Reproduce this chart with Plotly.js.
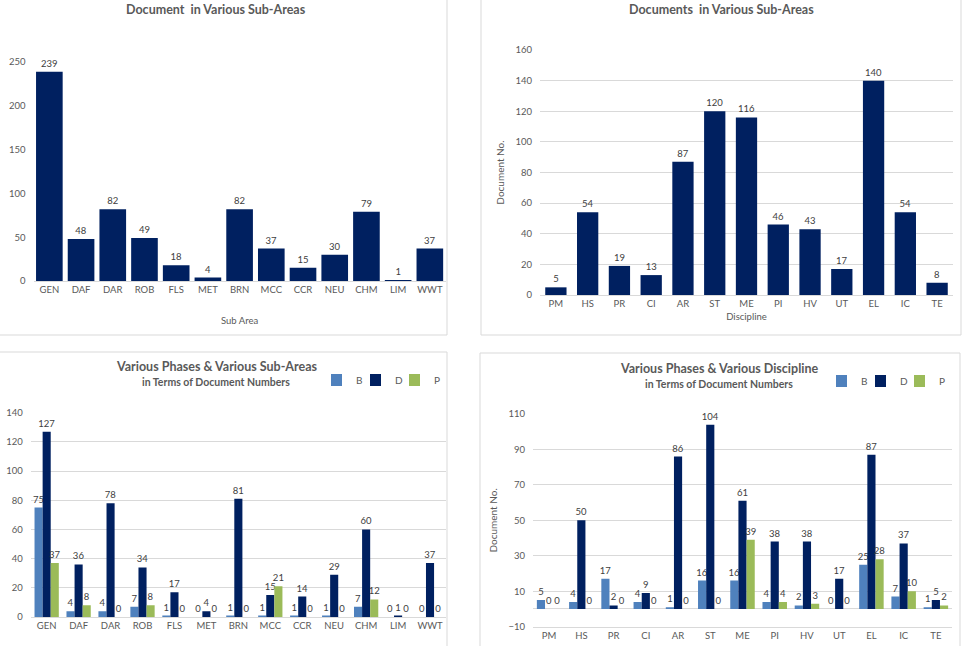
<!DOCTYPE html>
<html>
<head>
<meta charset="utf-8">
<script src="https://cdn.plot.ly/plotly-3.0.1.min.js"></script>
<style>html,body{margin:0;padding:0;background:#fff;}#chart{width:970px;height:646px;}</style>
</head>
<body>
<div id="chart"></div>
<script>
// ---- data ----
const subAreas = ['GEN','DAF','DAR','ROB','FLS','MET','BRN','MCC','CCR','NEU','CHM','LIM','WWT'];
const subAreaTotals = [239,48,82,49,18,4,82,37,15,30,79,1,37];

const disciplines = ['PM','HS','PR','CI','AR','ST','ME','PI','HV','UT','EL','IC','TE'];
const disciplineTotals = [5,54,19,13,87,120,116,46,43,17,140,54,8];

const subAreaB = [75,4,4,7,1,0,1,1,1,1,7,0,0];
const subAreaD = [127,36,78,34,17,4,81,15,14,29,60,1,37];
const subAreaP = [37,8,0,8,0,0,0,21,0,0,12,0,0];

const discB = [5,4,17,4,1,16,16,4,2,0,25,7,1];
const discD = [0,50,2,9,86,104,61,38,38,17,87,37,5];
const discP = [0,0,0,0,0,0,39,4,3,0,28,10,2];

const phaseNames = ['B','D','P'];

// ---- styles ----
const W = 970, H = 646;
const FONT = 'Lato, "Open Sans", sans-serif';
const NAVY = '#002060', BLUE = '#4f81bd', GREEN = '#9bbb59';
const GRID = '#d9d9d9', TXT = '#595959';
const px = v => v / W;
const py = v => 1 - v / H;

const labelFont = {family: FONT, size: 9.5, color: '#404040'};

function bar(x, y, color, xa, ya, extra) {
  return Object.assign({
    type: 'bar', x: x, y: y, xaxis: xa, yaxis: ya,
    marker: {color: color},
    text: y.map(String), textposition: 'outside', textfont: labelFont,
    cliponaxis: false, constraintext: 'none', hoverinfo: 'x+y'
  }, extra || {});
}

const data = [
  bar(subAreas, subAreaTotals, NAVY, 'x', 'y', {showlegend: false, width: 0.84}),
  bar(disciplines, disciplineTotals, NAVY, 'x2', 'y2', {showlegend: false, width: 0.67}),
  bar(subAreas, subAreaB, BLUE, 'x3', 'y3', {name: phaseNames[0], legend: 'legend'}),
  bar(subAreas, subAreaD, NAVY, 'x3', 'y3', {name: phaseNames[1], legend: 'legend2'}),
  bar(subAreas, subAreaP, GREEN, 'x3', 'y3', {name: phaseNames[2], legend: 'legend3'}),
  bar(disciplines, discB, BLUE, 'x4', 'y4', {name: phaseNames[0], legend: 'legend4'}),
  bar(disciplines, discD, NAVY, 'x4', 'y4', {name: phaseNames[1], legend: 'legend5'}),
  bar(disciplines, discP, GREEN, 'x4', 'y4', {name: phaseNames[2], legend: 'legend6'})
];

const tickFont = {family: FONT, size: 9.5, color: TXT};
function xax(d0, d1, anchor, title, standoff) {
  const a = {domain: [px(d0), px(d1)], anchor: anchor, type: 'category',
    tickfont: tickFont, showline: true, linecolor: GRID, linewidth: 1,
    ticks: '', showgrid: false, zeroline: false, fixedrange: true};
  if (title) a.title = {text: title, font: {family: FONT, size: 9.5, color: TXT}, standoff: standoff};
  return a;
}
function yax(top, bottom, anchor, range, dtick, tick0, grid, title) {
  const a = {domain: [py(bottom), py(top)], anchor: anchor, range: range,
    dtick: dtick, tick0: tick0, tickfont: tickFont, showgrid: grid, gridcolor: GRID,
    zeroline: grid, zerolinecolor: GRID, showline: false, ticks: '',
    ticklabelstandoff: 7, fixedrange: true};
  if (title) a.title = {text: title, font: {family: FONT, size: 10, color: TXT}, standoff: 8};
  return a;
}

const titleFont = {family: FONT, size: 12.5, color: TXT, weight: 'bold'};
const subFont = {family: FONT, size: 10.5, color: TXT, weight: 'bold'};
function ann(text, x, y, font) {
  return {text: text, x: px(x), y: py(y), xref: 'paper', yref: 'paper',
    showarrow: false, xanchor: 'center', yanchor: 'middle', font: font};
}
function box(x0, y0, x1, y1) {
  return {type: 'rect', xref: 'paper', yref: 'paper',
    x0: px(x0), x1: px(x1), y0: py(y1), y1: py(y0),
    line: {color: GRID, width: 1}, fillcolor: 'rgba(0,0,0,0)', layer: 'below'};
}

function leg(x, y) {
  return {orientation: 'h', font: {family: FONT, size: 10, color: TXT},
    bgcolor: 'rgba(0,0,0,0)', xanchor: 'left', yanchor: 'middle',
    itemwidth: 30, indentation: -15, x: px(x), y: py(y),
    itemclick: false, itemdoubleclick: false};
}

const layout = {
  width: W, height: H,
  margin: {l: 0, r: 0, t: 0, b: 0},
  paper_bgcolor: '#fff', plot_bgcolor: 'rgba(0,0,0,0)',
  font: {family: FONT, color: TXT},
  barmode: 'group', bargap: 0.24, bargroupgap: 0,
  xaxis: xax(33.5, 445.7, 'y', 'Sub Area', 22),
  yaxis: yax(62, 281, 'x', [0, 250], 50, 0, false),
  xaxis2: xax(540, 953, 'y2', 'Discipline', 4),
  yaxis2: yax(50, 295, 'x2', [0, 160], 20, 0, true, 'Document No.'),
  xaxis3: xax(30.7, 446, 'y3'),
  yaxis3: yax(412.7, 617, 'x3', [0, 140], 20, 0, true),
  xaxis4: xax(533, 952, 'y4'),
  yaxis4: yax(414, 626.7, 'x4', [-10, 110], 20, -10, true, 'Document No.'),
  legend: leg(331, 380),
  legend2: leg(370, 380),
  legend3: leg(409, 380),
  legend4: leg(836, 381),
  legend5: leg(875, 381),
  legend6: leg(914, 381),
  annotations: [
    ann('Document  in Various Sub-Areas', 216, 9, titleFont),
    ann('Documents  in Various Sub-Areas', 721, 9, titleFont),
    ann('Various Phases &amp; Various Sub-Areas', 216, 366, titleFont),
    ann('in Terms of Document Numbers', 216, 382, subFont),
    ann('Various Phases &amp; Various Discipline', 719, 368, titleFont),
    ann('in Terms of Document Numbers', 719, 384, subFont)
  ],
  shapes: [
    box(-2, -2, 447, 335),
    box(481, -2, 961, 335),
    box(-2, 352, 447, 650),
    box(480, 353, 960, 650)
  ]
};

Plotly.newPlot('chart', data, layout, {displayModeBar: false, staticPlot: true});
</script>
</body>
</html>
